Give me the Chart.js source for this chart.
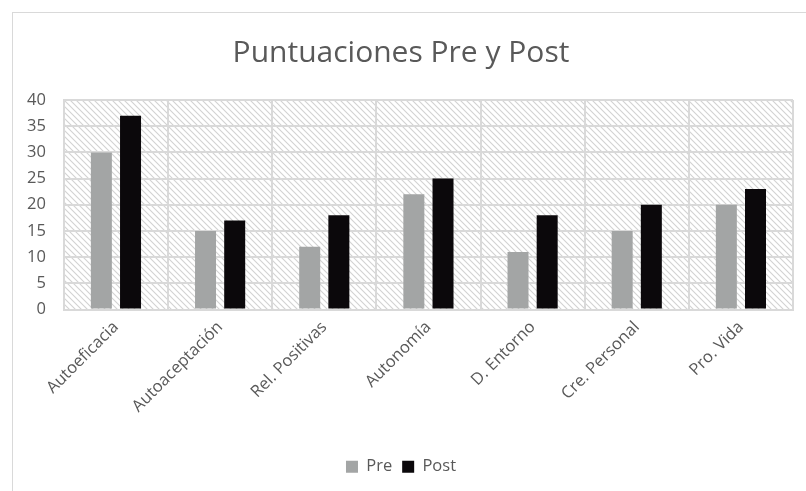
<!DOCTYPE html>
<html>
<head>
<meta charset="utf-8">
<script src="https://cdn.jsdelivr.net/npm/chart.js@4.4.0/dist/chart.umd.min.js"></script>
<style>
  body { margin: 0; background: #fff; }
  #frame { position: absolute; left: 12px; top: 12px; width: 800px; height: 490px; border: 1px solid #d9d9d9; }
  #wrap { position: absolute; left: 0; top: 0; width: 806px; height: 491px; }
</style>
</head>
<body>
<div id="frame"></div>
<div id="wrap"><canvas id="canvas" width="806" height="491"></canvas></div>
<script>
// categorias y puntuaciones
var categories = ["Autoeficacia", "Autoaceptación", "Rel. Positivas", "Autonomía", "D. Entorno", "Cre. Personal", "Pro. Vida"];
var preValues = [30, 15, 12, 22, 11, 15, 20];
var postValues = [37, 17, 18, 25, 18, 20, 23];
var yTicks = [0, 5, 10, 15, 20, 25, 30, 35, 40];

function makeHatch() {
    var c = document.createElement("canvas");
    c.width = 6;
    c.height = 6;
    var g = c.getContext("2d");
    g.fillStyle = "#ffffff";
    g.fillRect(0, 0, 6, 6);
    g.strokeStyle = "#d2d2d2";
    g.lineWidth = 1.1;
    g.beginPath();
    g.moveTo(-1, -1); g.lineTo(7, 7);
    g.moveTo(-4, 2); g.lineTo(4, 10);
    g.moveTo(2, -4); g.lineTo(10, 4);
    g.stroke();
    return g.createPattern(c, "repeat");
}

var hatchBg = {
    id: "hatchBg",
    beforeDraw: function(chart) {
        var a = chart.chartArea;
        var ctx = chart.ctx;
        ctx.save();
        ctx.fillStyle = makeHatch();
        ctx.fillRect(a.left, a.top, a.right - a.left, a.bottom - a.top);
        ctx.restore();
    }
};

var barChartData = {
    labels: categories,
    datasets: [
        {
            label: "Pre",
            data: preValues,
            backgroundColor: "#a3a5a5",
            categoryPercentage: 0.56,
            barPercentage: 0.72
        },
        {
            label: "Post",
            data: postValues,
            backgroundColor: "#0b080b",
            categoryPercentage: 0.56,
            barPercentage: 0.72
        }
    ]
};

var textGrey = "#595959";
var fontFam = "'Open Sans', 'Liberation Sans', sans-serif";

var opt = {
    responsive: false,
    animation: false,
    layout: { padding: { left: 9, right: 13, top: 10, bottom: 6 } },
    plugins: {
        title: {
            display: true,
            text: "Puntuaciones Pre y Post",
            color: textGrey,
            font: { family: fontFam, size: 30, weight: "normal" },
            padding: { top: 25, bottom: 29 }
        },
        legend: {
            position: "bottom",
            labels: {
                color: textGrey,
                font: { family: fontFam, size: 16.5 },
                boxWidth: 12,
                boxHeight: 12,
                padding: 10
            }
        },
        tooltip: { enabled: false }
    },
    scales: {
        x: {
            grid: { color: "#d9d9d9", lineWidth: 2, drawTicks: false },
            border: { color: "#d9d9d9", width: 2 },
            ticks: {
                color: textGrey,
                font: { family: fontFam, size: 16.5 },
                minRotation: 45,
                maxRotation: 45,
                padding: 8
            },
            afterFit: function(axis) {
                axis.height = 139;
            }
        },
        y: {
            min: 0,
            max: 40,
            afterBuildTicks: function(axis) {
                axis.ticks = yTicks.map(function(v) { return { value: v }; });
            },
            grid: { color: "#d9d9d9", lineWidth: 2, drawTicks: false },
            border: { color: "#d9d9d9", width: 2 },
            ticks: {
                color: textGrey,
                font: { family: fontFam, size: 16.5 },
                padding: 18
            }
        }
    }
};

var ctx = document.getElementById("canvas").getContext("2d");
new Chart(ctx, {
    type: "bar",
    data: barChartData,
    options: opt,
    plugins: [hatchBg]
});
</script>
</body>
</html>
